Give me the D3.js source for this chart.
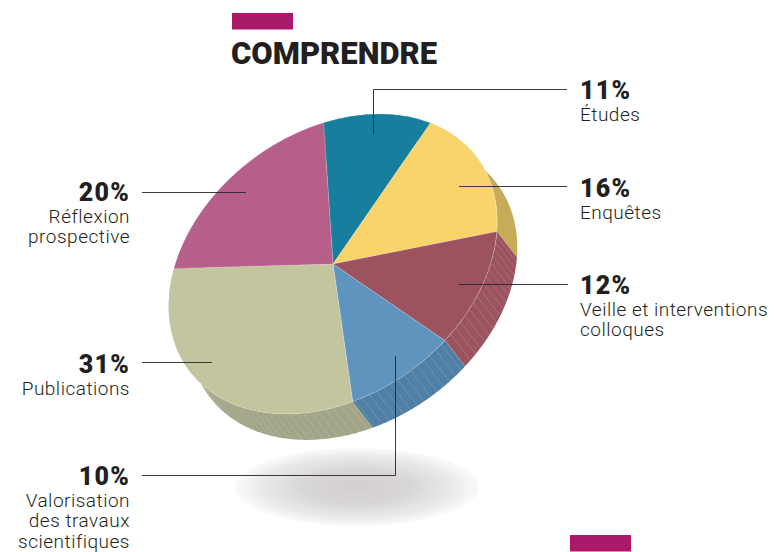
<!DOCTYPE html>
<html><head><meta charset="utf-8">
<script src="https://cdn.jsdelivr.net/npm/d3@7"></script>
<style>html,body{margin:0;background:#fff}svg{display:block}</style></head>
<body><svg id="c" width="774" height="552"></svg>
<script>
const title = "COMPRENDRE";
const values = [11, 16, 12, 10, 31, 20];
const percentLabels = ["11%", "16%", "12%", "10%", "31%", "20%"];
const nameLabels = [["Études"], ["Enquêtes"], ["Veille et interventions", "colloques"], ["Valorisation", "des travaux", "scientifiques"], ["Publications"], ["Réflexion", "prospective"]];
const topColors = ["#177e9e", "#f9d46b", "#9c535f", "#5f94be", "#c3c59f", "#b65f8b"];
const wallColors = ["#177e9e", "#c6ac58", "#9b5360", "#4f7fa5", "#a2a587", "#b65f8b"];

const svg = d3.select("#c");
const cx = 333, cy = 264, A = 179, B = 132, tilt = -36, dx = 20, dy = 26;
const phi = tilt * Math.PI / 180, rad = Math.PI / 180;
const pie = d3.pie().sort(null).startAngle(24.9 * rad).endAngle((360 + 24.9) * rad);
const arcs = pie(values);
const rim = (t, ox = 0, oy = 0) => {
  const u = A * Math.sin(t), v = -B * Math.cos(t);
  return [cx + u * Math.cos(phi) - v * Math.sin(phi) + ox, cy + u * Math.sin(phi) + v * Math.cos(phi) + oy];
};

// shadow
const defs = svg.append("defs");
const grad = defs.append("radialGradient").attr("id", "sh");
[[0, "#d2cfce", 1], [0.45, "#d9d7d6", 1], [0.8, "#ebeaea", 1], [1, "#f5f4f4", 0.5]].forEach(s =>
  grad.append("stop").attr("offset", s[0]).attr("stop-color", s[1]).attr("stop-opacity", s[2]));
svg.append("ellipse").attr("cx", 357).attr("cy", 487).attr("rx", 122).attr("ry", 39).attr("fill", "url(#sh)");

// side walls
const line = d3.line();
const walls = svg.append("g");
arcs.forEach((a, i) => {
  const ts = d3.range(a.startAngle, a.endAngle, 0.01).concat([a.endAngle]);
  const pts = ts.map(t => rim(t)).concat(ts.slice().reverse().map(t => rim(t, dx, dy)));
  walls.append("path").attr("d", line(pts) + "Z").attr("fill", wallColors[i]);
});
// hatching on the walls that face the viewer
const hatch = svg.append("g").attr("stroke", "#fff").attr("stroke-opacity", 0.25).attr("stroke-width", 0.6);
[2, 3, 4].forEach(i => {
  const a = arcs[i];
  d3.range(a.startAngle + 0.03, a.endAngle, 0.045).forEach(t => {
    const p = rim(t), q = rim(t, dx, dy);
    hatch.append("line").attr("x1", p[0]).attr("y1", p[1]).attr("x2", q[0]).attr("y2", q[1]);
  });
});

// top face
const arc = d3.arc().innerRadius(0).outerRadius(1);
svg.append("g").attr("transform", `translate(${cx},${cy}) rotate(${tilt}) scale(${A},${B})`)
  .selectAll("path").data(arcs).join("path")
  .attr("d", arc).attr("fill", (d, i) => topColors[i])
  .attr("stroke", "#fff").attr("stroke-opacity", 0.25).attr("stroke-width", 0.7)
  .attr("vector-effect", "non-scaling-stroke");

// leaders
const leaders = [
  [[373.5, 134], [373.5, 89.5], [567, 89.5]],
  [[459, 186.5], [567, 186.5]],
  [[459, 284.5], [568, 284.5]],
  [[395.5, 356], [395.5, 475.5], [142, 475.5]],
  [[212, 362.5], [142, 362.5]],
  [[246, 192.5], [142, 192.5]]
];
svg.append("g").selectAll("path").data(leaders).join("path")
  .attr("d", d => line(d)).attr("fill", "none").attr("stroke", "#2a2526").attr("stroke-width", 1)
  .attr("stroke-opacity", 0.9);

// labels
const pos = [[580, 99, "start"], [580, 197, "start"], [580, 294, "start"], [130, 485, "end"], [130, 373, "end"], [130, 201, "end"]];
const ff = "Roboto, 'Open Sans', sans-serif";
values.forEach((v, i) => {
  const [x, y, anchor] = pos[i];
  svg.append("text").attr("x", x).attr("y", y).attr("text-anchor", anchor)
    .attr("font-family", ff).attr("font-weight", 900).attr("font-size", 25).attr("letter-spacing", 1.2).attr("fill", "#231f20")
    .text(percentLabels[i]);
  nameLabels[i].forEach((s, k) => {
    svg.append("text").attr("x", x).attr("y", y + 21.5 + k * 20.8).attr("text-anchor", anchor)
      .attr("font-family", ff).attr("font-weight", 300).attr("font-size", 19).attr("letter-spacing", 0.5).attr("fill", "#231f20")
      .text(s);
  });
});

// title and bars
svg.append("rect").attr("x", 232).attr("y", 13).attr("width", 61).attr("height", 16.5).attr("fill", "#aa1a68");
svg.append("rect").attr("x", 570).attr("y", 535).attr("width", 61).attr("height", 16.5).attr("fill", "#aa1a68");
svg.append("text").attr("x", 231).attr("y", 64).attr("font-family", ff).attr("font-weight", 900)
  .attr("font-size", 32).attr("fill", "#231f20").attr("textLength", 206).attr("lengthAdjust", "spacingAndGlyphs").text(title);
</script></body></html>
